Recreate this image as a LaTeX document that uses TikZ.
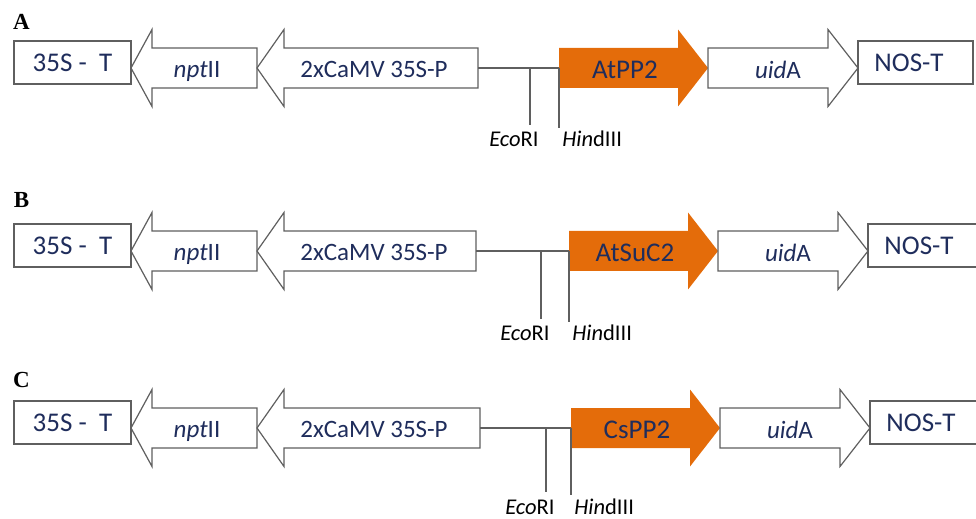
\documentclass[tikz,border=0pt]{standalone}
\usepackage{fontspec}
\setmainfont{Carlito}
\newfontfamily\panfont{Liberation Serif}
\usetikzlibrary{positioning}
\definecolor{genenavy}{RGB}{31,45,92}
\definecolor{geneorange}{RGB}{228,108,10}
\definecolor{linegray}{RGB}{95,95,95}
\tikzset{
  genebox/.style={draw=linegray, line width=0.6pt, fill=white, line join=miter},
  genefill/.style={fill=geneorange},
  genetxt/.style={text=genenavy, inner sep=0pt, text depth=0pt},
  bigtxt/.style={genetxt, font=\fontsize{13.5}{16}\selectfont},
  midtxt/.style={genetxt, font=\fontsize{12.5}{15}\selectfont},
  sitetxt/.style={inner sep=0pt, font=\fontsize{11.25}{13}\selectfont},
  backbone/.style={draw=linegray, line width=0.6pt},
  panlab/.style={inner sep=0pt, font=\panfont\bfseries\fontsize{11.5}{13}\selectfont}
}
\begin{document}
\begin{tikzpicture}[x=0.5pt, y=-0.5pt]
\useasboundingbox (0,0) rectangle (976,519);

\foreach \pnl/\yc/\ly/\labbase/\gene/\eco/\hind/\prx in
  {A/68/22/147/AtPP2/530/559/478,
   B/251/200/341/AtSuC2/541/569/476,
   C/428/380/514/CsPP2/546/571/480}{

  % panel letter
  \node[panlab] (lab\pnl) at (21.5,\ly) {\pnl};

  % 35S terminator
  \draw[genebox] (14,\yc-27) rectangle (131,\yc+16);
  \node[bigtxt] (ter\pnl) at (72.5,\yc-5.5) {35S -\ \ T};

  % nptII, pointing left
  \draw[genebox] (131,\yc) -- (152,\yc-38.5) -- (152,\yc-20) -- (257,\yc-20)
    -- (257,\yc+20) -- (152,\yc+20) -- (152,\yc+38.5) -- cycle;
  \node[midtxt] (npt\pnl) at (197,\yc+1.5) {\textit{npt}II};

  % double promoter, pointing left
  \draw[genebox] (257,\yc) -- (284,\yc-38.5) -- (284,\yc-20) -- (\prx,\yc-20)
    -- (\prx,\yc+20) -- (284,\yc+20) -- (284,\yc+38.5) -- cycle;
  \node[midtxt] (pro\pnl) at (374,\yc+1.5) {2xCaMV 35S-P};

  % backbone and cloning sites
  \coordinate (pr\pnl) at (\prx,\yc);
  \coordinate (ec\pnl) at (\eco,\yc);
  \coordinate (hd\pnl) at (\hind,\yc);
  \coordinate (ecend\pnl) at (\eco,\labbase-22);
  \coordinate (hdend\pnl) at (\hind,\labbase-19);
  \draw[backbone] (pr\pnl) -- (hd\pnl);
  \draw[backbone] (ec\pnl) -- (ecend\pnl);

  % inserted gene
  \fill[genefill] (\hind,\yc-20) -- (\hind+119,\yc-20) -- (\hind+119,\yc-38.5)
    -- (\hind+149,\yc) -- (\hind+119,\yc+38.5) -- (\hind+119,\yc+20)
    -- (\hind,\yc+20) -- cycle;
  \node[bigtxt] (gene\pnl) at (\hind+66,\yc+1.5) {\gene};
  \draw[backbone] (hd\pnl) -- (hdend\pnl);

  % uidA reporter
  \draw[genebox] (\hind+149,\yc-20) -- (\hind+269,\yc-20) -- (\hind+269,\yc-38.5)
    -- (\hind+299,\yc) -- (\hind+269,\yc+38.5) -- (\hind+269,\yc+20)
    -- (\hind+149,\yc+20) -- cycle;
  \node[midtxt] (uid\pnl) at (\hind+219,\yc+1.5) {\textit{uid}A};

  % NOS terminator
  \draw[genebox] (\hind+299,\yc-27) rectangle (\hind+414,\yc+16);
  \node[bigtxt] (nos\pnl) at (\hind+350,\yc-5.5) {NOS-T};

  % site labels
  \node[sitetxt, anchor=base east] (ecl\pnl) at (\eco+9,\labbase) {\textit{Eco}RI};
  \node[sitetxt, anchor=base west] (hdl\pnl) at (\hind+3,\labbase) {\textit{Hin}dIII};
}
\end{tikzpicture}
\end{document}
